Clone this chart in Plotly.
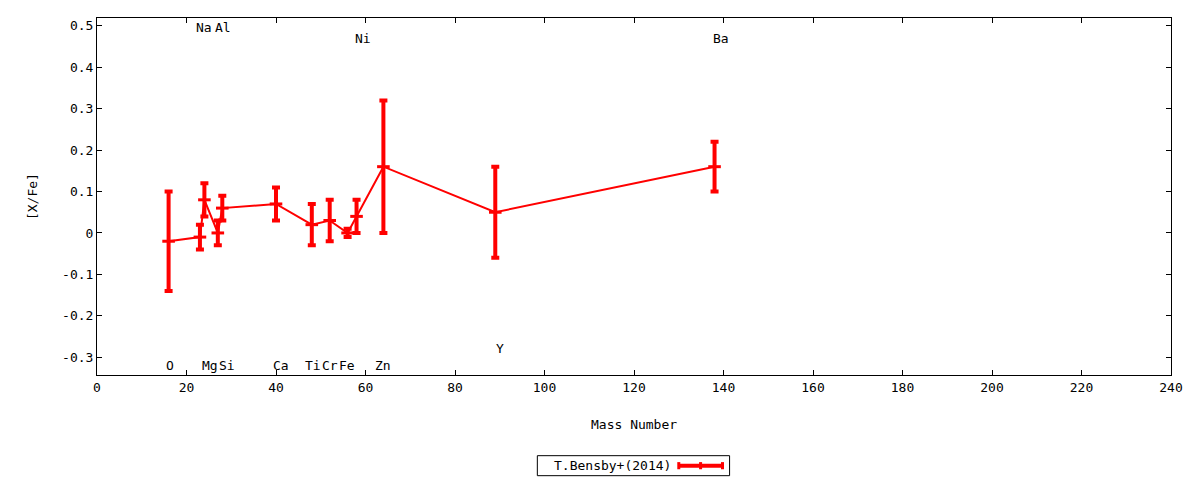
import plotly.graph_objects as go

# abundance data
elements = ["O", "Na", "Mg", "Al", "Si", "Ca", "Ti", "Cr", "Fe", "Ni", "Zn", "Y", "Ba"]
mass = [16, 23, 24, 27, 28, 40, 48, 52, 56, 58, 64, 89, 138]
x_fe = [-0.02, -0.01, 0.08, 0.0, 0.06, 0.07, 0.02, 0.03, 0.0, 0.04, 0.16, 0.05, 0.16]
err = [0.12, 0.03, 0.04, 0.03, 0.03, 0.04, 0.05, 0.05, 0.01, 0.04, 0.16, 0.11, 0.06]

# where each element name is written (y in data units, small x nudge in px)
label_y = [-0.32, 0.495, -0.32, 0.495, -0.32, -0.32, -0.32, -0.32, -0.32, 0.47, -0.32, -0.28, 0.47]
label_dx = [1, 4, 6, 5, 5, 5, 1, 0, -1, 6, 0, 5, 6]

y_ticks = [-0.3, -0.2, -0.1, 0, 0.1, 0.2, 0.3, 0.4, 0.5]
x_ticks = list(range(0, 241, 20))

RED = "#ff0000"
FONT = "DejaVu Sans Mono"
txt = dict(family=FONT, size=13, color="black")

fig = go.Figure()
fig.add_trace(go.Scatter(
    x=mass, y=x_fe, mode="lines+markers",
    line=dict(color=RED, width=2),
    marker=dict(symbol="line-ew", size=9, line=dict(color=RED, width=3)),
    error_y=dict(type="data", array=err, color=RED, thickness=4, width=4),
    showlegend=False,
))

annotations = []
for name, m, ly, dx in zip(elements, mass, label_y, label_dx):
    annotations.append(dict(x=m, y=ly, xref="x", yref="y", text=name, showarrow=False,
                            xanchor="center", yanchor="middle", xshift=dx, font=txt))

# axis titles
annotations.append(dict(x=0.5, y=-0.14, xref="paper", yref="paper", text="Mass Number",
                        xanchor="center", yanchor="middle", showarrow=False, font=txt))
annotations.append(dict(x=-0.060, y=0.5, xref="paper", yref="paper", text="[X/Fe]", textangle=-90,
                        xanchor="center", yanchor="middle", showarrow=False, font=txt))

# gnuplot style key: text then sample
annotations.append(dict(x=0.4796, y=-0.254, xref="paper", yref="paper", text="T.Bensby+(2014)",
                        xanchor="center", yanchor="middle", showarrow=False, font=txt))
shapes = [
    dict(type="rect", xref="paper", yref="paper", x0=0.410, x1=0.589, y0=-0.282, y1=-0.226,
         line=dict(color="black", width=1)),
    dict(type="line", xref="paper", yref="paper", x0=0.5417, x1=0.5824, y0=-0.254, y1=-0.254,
         line=dict(color=RED, width=4)),
]
for xp in [0.5417, 0.562, 0.5824]:
    shapes.append(dict(type="line", xref="paper", yref="paper", x0=xp, x1=xp, y0=-0.264, y1=-0.244,
                       line=dict(color=RED, width=3)))

axis_common = dict(showgrid=False, zeroline=False, showline=True, linecolor="black", linewidth=1,
                   mirror="ticks", ticks="inside", ticklen=5, tickcolor="black",
                   tickfont=txt)

fig.update_layout(
    width=1184, height=472,
    margin=dict(l=89, r=15, t=9, b=105),
    plot_bgcolor="white", paper_bgcolor="white",
    xaxis=dict(range=[0, 240], tickvals=x_ticks, ticktext=[str(v) for v in x_ticks], **axis_common),
    yaxis=dict(range=[-0.343, 0.519], tickvals=y_ticks,
               ticktext=[("%g" % v) for v in y_ticks], **axis_common),
    annotations=annotations,
    shapes=shapes,
)

fig.write_html("out.html")
